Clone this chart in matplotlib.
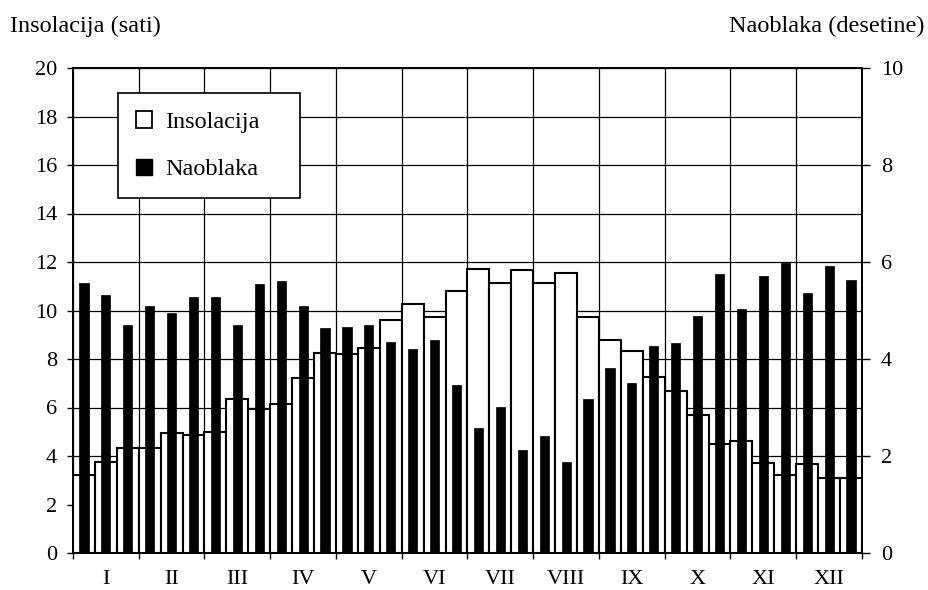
import matplotlib
matplotlib.use("Agg")
import matplotlib.pyplot as plt
from matplotlib.patches import Patch
import numpy as np

months = ["I", "II", "III", "IV", "V", "VI", "VII", "VIII", "IX", "X", "XI", "XII"]
insolacija = [3.2, 3.75, 4.35, 4.35, 4.95, 4.85, 5.0, 6.35, 5.95, 6.15, 7.2, 8.25,
              8.2, 8.45, 9.6, 10.25, 9.75, 10.8, 11.7, 11.15, 11.65, 11.15, 11.55, 9.75,
              8.8, 8.35, 7.25, 6.7, 5.7, 4.5, 4.6, 3.7, 3.2, 3.65, 3.1, 3.1]
naoblaka = [5.57, 5.31, 4.71, 5.09, 4.95, 5.27, 5.28, 4.71, 5.54, 5.61, 5.09, 4.63,
            4.67, 4.71, 4.36, 4.21, 4.39, 3.46, 2.58, 3.02, 2.12, 2.41, 1.87, 3.17,
            3.81, 3.51, 4.27, 4.32, 4.89, 5.75, 5.03, 5.71, 5.97, 5.37, 5.92, 5.63]
left_ticks = list(range(0, 21, 2))
right_ticks = list(range(0, 11, 2))

plt.rcParams['font.family'] = ['Liberation Serif', 'DejaVu Serif']
FS = 16
FS_T = 17.5

fig = plt.figure(figsize=(9.29, 5.90), dpi=100)
ax = fig.add_axes([73/929, 1 - 553/590, (862-73)/929, (553-68)/590])
ax2 = ax.twinx()

n = len(insolacija)
x = np.arange(n)
ax.bar(x, insolacija, width=1.0, color='white', edgecolor='black', linewidth=1.5, zorder=2)
ax2.bar(x, naoblaka, width=0.42, color='black', edgecolor='black', linewidth=0.5, zorder=3)

ax.set_xlim(-0.5, n - 0.5)
ax.set_ylim(0, 20)
ax2.set_ylim(0, 10)

ax.set_yticks(left_ticks)
ax2.set_yticks(right_ticks)

bounds = np.arange(-0.5, n, 3)
ax.set_xticks(bounds)
ax.set_xticklabels([])
ax.set_xticks(np.arange(1, n, 3), minor=True)
ax.set_xticklabels(months, minor=True)

ax.set_axisbelow(True)
ax.grid(True, which='major', color='black', linewidth=0.9)
ax.tick_params(axis='y', direction='out', length=4.5, width=1.0, pad=7, labelsize=FS)
ax.tick_params(axis='x', which='major', direction='out', length=4, width=1.0)
ax.tick_params(axis='x', which='minor', length=0, pad=12, labelsize=FS)
ax2.tick_params(axis='y', direction='out', length=5.5, width=1.0, pad=8, labelsize=FS)

for a in (ax, ax2):
    for s in a.spines.values():
        s.set_linewidth(1.4)
        s.set_color('black')
ax2.patch.set_visible(False)

handles = [Patch(facecolor='white', edgecolor='black', linewidth=1.3, label='Insolacija'),
           Patch(facecolor='black', edgecolor='black', label='Naoblaka')]
leg = ax2.legend(handles=handles, loc='upper left',
                 bbox_to_anchor=(0.057, 0.748, 0.231, 0.2), mode='expand',
                 borderaxespad=0, fontsize=FS_T, frameon=True, fancybox=False,
                 edgecolor='black', framealpha=1, handlelength=0.65, handleheight=0.65,
                 labelspacing=1.05, borderpad=0.75, handletextpad=0.55)
leg.get_frame().set_linewidth(1.2)

fig.text(10/929, 1 - 26/590, "Insolacija (sati)", fontsize=FS_T, ha='left', va='center')
fig.text(925/929, 1 - 26/590, "Naoblaka (desetine)", fontsize=FS_T, ha='right', va='center')

fig.savefig("out.png", dpi=100)
